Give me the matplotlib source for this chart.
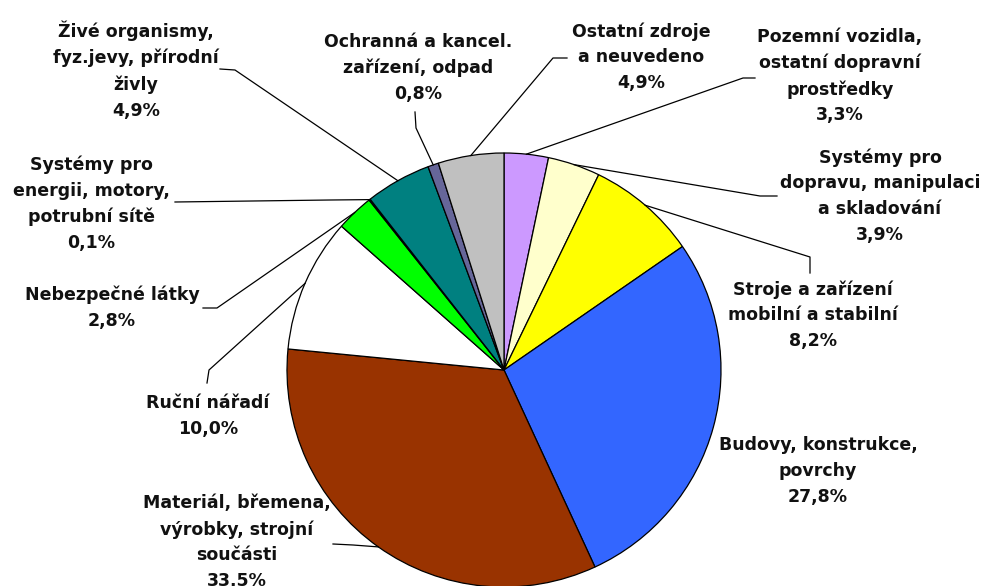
import numpy as np
import matplotlib
matplotlib.use("Agg")
import matplotlib.pyplot as plt

plt.rcParams['font.family'] = ['DejaVu Sans']

# Sources of injuries, share in %
labels = [
    "Pozemní vozidla,\nostatní dopravní\nprostředky",
    "Systémy pro\ndopravu, manipulaci\na skladování",
    "Stroje a zařízení\nmobilní a stabilní",
    "Budovy, konstrukce,\npovrchy",
    "Materiál, břemena,\nvýrobky, strojní\nsoučásti",
    "Ruční nářadí",
    "Nebezpečné látky",
    "Systémy pro\nenergii, motory,\npotrubní sítě",
    "Živé organismy,\nfyz.jevy, přírodní\nživly",
    "Ochranná a kancel.\nzařízení, odpad",
    "Ostatní zdroje\na neuvedeno",
]
shares = [3.3, 3.9, 8.2, 27.8, 33.5, 10.0, 2.8, 0.1, 4.9, 0.8, 4.9]
colors = ["#CC99FF", "#FFFFCC", "#FFFF00", "#3366FF", "#993300", "#FFFFFF",
          "#00FF00", "#333399", "#008080", "#666699", "#C0C0C0"]

# label block centres and leader elbows (pixel coords, y from top)
label_pos = [(840, 76), (880, 196), (813, 315), (818, 471), (237, 542), (208, 416),
             (112, 308), (91, 204), (136, 70), (418, 68), (641, 57)]
elbows = [[(755, 78), (743, 78)],
          [(777, 196), (760, 196)],
          [(810, 273), (810, 257)],
          None,
          [(333, 544), (353, 545)],
          [(207, 383), (209, 370)],
          [(203, 308), (217, 308)],
          [(175, 202), (330, 200)],
          [(220, 69), (235, 70)],
          [(415, 112), (416, 128)],
          [(567, 58), (553, 58)]]

W, H = 981, 586
cx, cy, r = 504, 370, 217

fig = plt.figure(figsize=(W / 100, H / 100), dpi=100)
ax = fig.add_axes([0, 0, 1, 1])

ax.pie(shares, colors=colors, center=(cx, H - cy), radius=r, startangle=90,
       counterclock=False,
       wedgeprops=dict(edgecolor="black", linewidth=0.9))

total = sum(shares)
start = 90.0
for i, v in enumerate(shares):
    mid = np.deg2rad(start - v / total * 360 / 2)
    start -= v / total * 360
    ex = cx + r * np.cos(mid)
    ey = H - (cy - r * np.sin(mid))
    if elbows[i] is not None:
        xs = [p[0] for p in elbows[i]] + [ex]
        ys = [H - p[1] for p in elbows[i]] + [ey]
        ax.plot(xs, ys, color="black", lw=0.9)
    txt = labels[i] + "\n" + f"{v:.1f}".replace(".", ",") + "%"
    lx, ly = label_pos[i]
    ax.text(lx, H - ly, txt, ha="center", va="center", fontsize=12.5,
            fontweight="bold", linespacing=1.55, color="#111111")

ax.set_xlim(0, W)
ax.set_ylim(0, H)
ax.set_aspect("equal")
ax.axis("off")

fig.savefig("out.png", dpi=100)
